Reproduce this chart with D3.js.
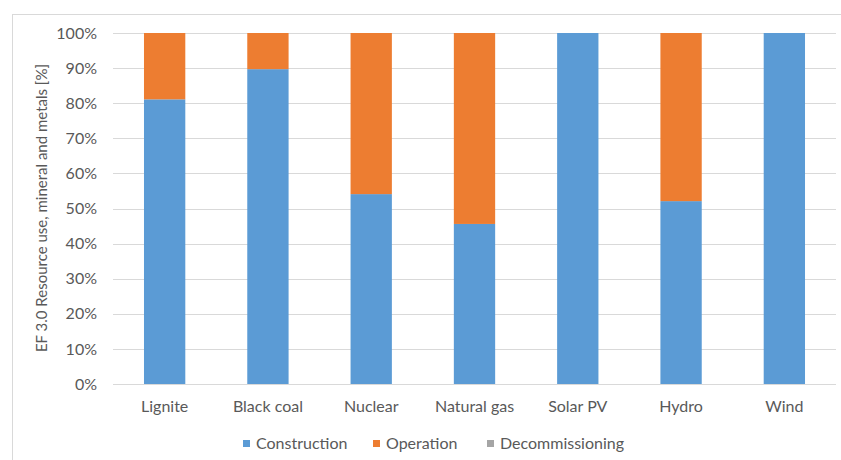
<!DOCTYPE html>
<html>
<head>
<meta charset="utf-8">
<script src="https://cdn.jsdelivr.net/npm/d3@7/dist/d3.min.js"></script>
<style>
  html, body { margin: 0; padding: 0; background: #fff; }
  svg text { font-family: Lato, "Open Sans", sans-serif; fill: #595959; }
</style>
</head>
<body>
<svg id="chart" width="841" height="460"></svg>
<script>
// Share of resource use (minerals and metals) by life-cycle phase, per technology
const categories = ["Lignite", "Black coal", "Nuclear", "Natural gas", "Solar PV", "Hydro", "Wind"];
const construction = [81.1, 89.7, 54.1, 45.6, 100, 52.1, 100];
const operation = [18.9, 10.3, 45.9, 54.4, 0, 47.9, 0];
const decommissioning = [0, 0, 0, 0, 0, 0, 0];
const seriesNames = ["Construction", "Operation", "Decommissioning"];
const seriesColors = ["#5B9BD5", "#ED7D31", "#A5A5A5"];
const yTicks = [0, 10, 20, 30, 40, 50, 60, 70, 80, 90, 100];

const svg = d3.select("#chart");

// outer chart frame
svg.append("rect")
  .attr("x", 12.5).attr("y", 14.5)
  .attr("width", 840).attr("height", 460)
  .attr("fill", "none").attr("stroke", "#d9d9d9").attr("stroke-width", 1);

const plot = { left: 113, right: 836, top: 33, bottom: 384 };

const x = d3.scaleBand()
  .domain(categories)
  .range([plot.left, plot.right])
  .paddingInner(0.6).paddingOuter(0.3);

const y = d3.scaleLinear().domain([0, 100]).range([plot.bottom, plot.top]);

// gridlines
svg.append("g")
  .selectAll("line")
  .data(yTicks)
  .join("line")
  .attr("x1", plot.left).attr("x2", plot.right)
  .attr("y1", d => Math.round(y(d)) + 0.5).attr("y2", d => Math.round(y(d)) + 0.5)
  .attr("stroke", "#d9d9d9").attr("stroke-width", 1);

// stacked bars
const rows = categories.map((c, i) => ({
  category: c,
  Construction: construction[i],
  Operation: operation[i],
  Decommissioning: decommissioning[i]
}));
const stacked = d3.stack().keys(seriesNames)(rows);

svg.append("g")
  .selectAll("g")
  .data(stacked)
  .join("g")
  .attr("fill", (d, i) => seriesColors[i])
  .selectAll("rect")
  .data(d => d)
  .join("rect")
  .attr("x", d => x(d.data.category))
  .attr("width", x.bandwidth())
  .attr("y", d => y(d[1]))
  .attr("height", d => y(d[0]) - y(d[1]));

// y axis labels
const yAxis = d3.axisLeft(y)
  .tickValues(yTicks)
  .tickFormat(d => d + "%")
  .tickSize(0)
  .tickPadding(16);
const yg = svg.append("g")
  .attr("transform", `translate(${plot.left},0)`)
  .call(yAxis);
yg.select(".domain").remove();
yg.selectAll("text").style("font-size", "16px").attr("fill", "#595959");

// x axis labels
const xAxis = d3.axisBottom(x).tickSize(0).tickPadding(17);
const xg = svg.append("g")
  .attr("transform", `translate(0,${plot.bottom})`)
  .call(xAxis);
xg.select(".domain").remove();
xg.selectAll("text").style("font-size", "16px").attr("fill", "#595959");

// y axis title
svg.append("text")
  .attr("transform", "translate(47,208) rotate(-90)")
  .attr("text-anchor", "middle")
  .style("font-size", "15px")
  .text("EF 3.0 Resource use, mineral and metals [%]");

// legend
const legendItems = [
  { name: seriesNames[0], color: seriesColors[0], x: 243 },
  { name: seriesNames[1], color: seriesColors[1], x: 373 },
  { name: seriesNames[2], color: seriesColors[2], x: 487 }
];
const lg = svg.append("g").selectAll("g").data(legendItems).join("g")
  .attr("transform", d => `translate(${d.x},443)`);
lg.append("rect").attr("x", 0).attr("y", -3).attr("width", 7).attr("height", 7).attr("fill", d => d.color);
lg.append("text").attr("x", 13).attr("y", 6).style("font-size", "16px").text(d => d.name);
</script>
</body>
</html>
